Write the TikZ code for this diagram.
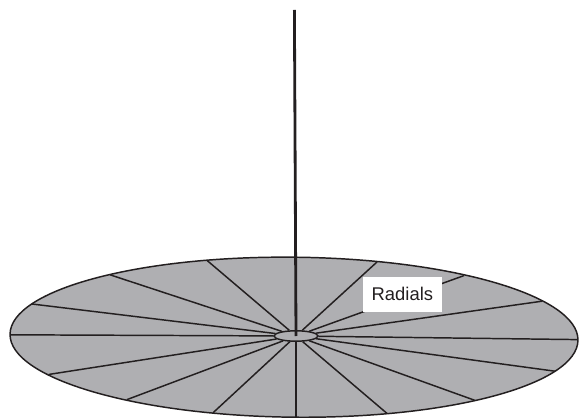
\documentclass[tikz,border=0pt]{standalone}
\usepackage{fontspec}
\setmainfont{Liberation Sans}
\usetikzlibrary{shapes.geometric}
\definecolor{discgray}{RGB}{175,175,178}
\definecolor{inkdark}{RGB}{35,31,32}
\tikzset{
    radial/.style={inkdark,line width=1.05pt},
    hubdisc/.style={ellipse,draw=inkdark,line width=1.05pt,fill=discgray,inner sep=0pt,minimum width=1.1cm,minimum height=0.26cm},
    labelbox/.style={fill=white,inner sep=0pt,minimum width=1.975cm,minimum height=0.875cm,font=\fontsize{13.1}{15}\selectfont,text=inkdark}
}
\begin{document}
\begin{tikzpicture}[scale=1.0]
    \useasboundingbox (-7.4,-2.025) rectangle (7.075,8.4);

    \draw[inkdark,fill=discgray,line width=1.05pt,rotate around={-0.6:(-0.05,-0.03)}] (-0.05,-0.03) ellipse (7.1 and 2.0);

    \coordinate (rim1) at (-7.14,0.03);
    \coordinate (rim2) at (-6.6,0.8);
    \coordinate (rim3) at (-4.65,1.53);
    \coordinate (rim4) at (-2.225,1.89);
    \coordinate (rim5) at (2.025,1.85);
    \coordinate (rim6) at (4.2,1.51);
    \coordinate (rim7) at (6.15,0.87);
    \coordinate (rim8) at (7.04,-0.09);
    \coordinate (rim9) at (6.475,-0.88);
    \coordinate (rim10) at (4.475,-1.61);
    \coordinate (rim11) at (2.275,-1.935);
    \coordinate (rim12) at (0,-2.025);
    \coordinate (rim13) at (-2.075,-1.92);
    \coordinate (rim14) at (-4.225,-1.59);
    \coordinate (rim15) at (-6.175,-0.96);
    \coordinate (masttop) at (-0.04,8.15);

    \node[hubdisc] (hub) at (0,0) {};

    \draw[radial] (hub) -- (rim1);
    \draw[radial] (hub) -- (rim2);
    \draw[radial] (hub) -- (rim3);
    \draw[radial] (hub) -- (rim4);
    \draw[radial] (hub) -- (rim5);
    \draw[radial] (hub) -- (rim6);
    \draw[radial] (hub) -- (rim7);
    \draw[radial] (hub) -- (rim8);
    \draw[radial] (hub) -- (rim9);
    \draw[radial] (hub) -- (rim10);
    \draw[radial] (hub) -- (rim11);
    \draw[radial] (hub) -- (rim12);
    \draw[radial] (hub) -- (rim13);
    \draw[radial] (hub) -- (rim14);
    \draw[radial] (hub) -- (rim15);

    \draw[inkdark,line width=2pt] (hub.center) -- (masttop);

    \node[labelbox] (radials) at (2.66,1.04) {Radials};
\end{tikzpicture}
\end{document}
